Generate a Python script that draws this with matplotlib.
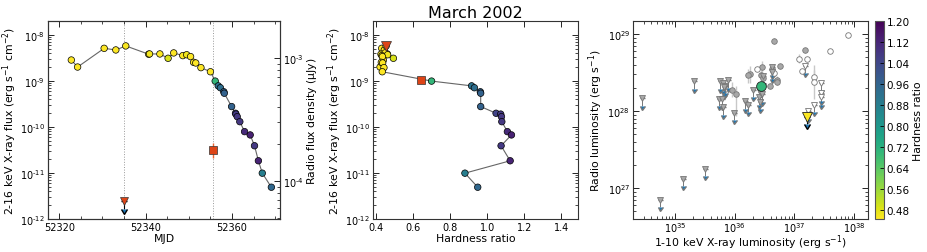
import numpy as np
import matplotlib
matplotlib.use("Agg")
import matplotlib.pyplot as plt
from matplotlib.colors import Normalize
from matplotlib.ticker import MultipleLocator, LogLocator, NullFormatter, FuncFormatter
import matplotlib.cm as cm

# ---------------- data ----------------
mjd = [52322.8, 52324.25, 52330.4, 52333.1, 52335.4, 52340.7, 52340.9, 52343.3,
       52345.2, 52346.5, 52348.6, 52349.5, 52350.4, 52351.1, 52351.6, 52352.8,
       52355.0, 52356.1, 52356.8, 52357.3, 52358.1, 52358.2, 52359.9, 52360.8,
       52360.9, 52361.2, 52361.8, 52362.9, 52364.2, 52365.2, 52366.1, 52367.0,
       52369.1]
xflux = [2.84e-9, 2.0e-9, 5.1e-9, 4.7e-9, 5.75e-9, 3.8e-9, 3.85e-9, 3.85e-9,
         3.1e-9, 4.05e-9, 3.54e-9, 3.7e-9, 3.37e-9, 2.53e-9, 2.45e-9, 1.94e-9,
         1.58e-9, 9.9e-10, 7.8e-10, 7.1e-10, 5.8e-10, 5.4e-10, 2.77e-10, 1.98e-10,
         1.9e-10, 1.67e-10, 1.3e-10, 7.9e-11, 6.7e-11, 3.9e-11, 1.84e-11, 9.9e-12,
         4.9e-12]
hardness = [0.44, 0.422, 0.431, 0.445, 0.455, 0.427, 0.461, 0.452, 0.494, 0.449,
            0.432, 0.463, 0.435, 0.429, 0.436, 0.443, 0.434, 0.70, 0.916, 0.931,
            0.963, 0.965, 0.965, 1.048, 1.073, 1.077, 1.079, 1.109, 1.131, 1.075,
            1.124, 0.880, 0.949]

radio_mjd = [52334.9, 52355.7]
radio_flux = [6.9e-5, 1.79e-4]
radio_err = [0.0, 0.25e-4]
radio_hr = [0.454, 0.644]
radio_xflux = [5.85e-9, 1.06e-9]

# right panel (log10 luminosities)
det_lx = [35.96, 36.03, 36.25, 36.23, 36.45, 36.44, 36.59, 36.66, 36.70, 36.71, 36.76, 37.17, 36.47, 36.62]
det_lr = [28.28, 28.22, 28.48, 28.47, 28.57, 28.47, 28.33, 28.91, 28.41, 28.38, 28.58, 28.79, 28.43, 28.55]
det_elo = [0.10, 0.28, 0.12, 0.10, 0.08, 0.06, 0.04, 0.04, 0.04, 0.04, 0.03, 0.03, 0.05, 0.04]
det_ehi = [0.10, 0.10, 0.10, 0.08, 0.08, 0.06, 0.04, 0.04, 0.04, 0.04, 0.03, 0.03, 0.05, 0.04]

open_lx = [36.38, 36.65, 37.08, 37.21, 37.13, 37.32, 37.33, 37.60, 37.89]
open_lr = [28.55, 28.49, 28.68, 28.68, 28.52, 28.44, 28.38, 28.78, 28.99]
open_err = [0.0, 0.0, 0.06, 0.0, 0.0, 0.10, 0.22, 0.0, 0.0]

ul_lx = [34.45, 34.75, 35.13, 35.32, 35.50, 35.76, 35.80, 35.84, 35.89, 35.82,
         35.74, 35.79, 35.81, 35.99, 36.18, 36.23, 36.30, 36.40, 36.43, 36.46,
         36.42, 36.62, 36.63, 36.47]
ul_lr = [28.17, 26.85, 27.12, 28.39, 27.25, 28.39, 28.36, 28.33, 28.40, 28.31,
         28.16, 28.16, 28.05, 27.98, 28.13, 28.08, 28.28, 28.18, 28.25, 28.22,
         28.12, 28.57, 28.51, 28.46]

oul_lx = [37.17, 37.23, 37.33, 37.45, 37.44, 37.45]
oul_lr = [28.59, 28.00, 28.08, 28.37, 28.23, 28.18]

hl_lx = [36.44]
hl_lr = [28.33]
hl_hr = [0.70]
hlul_lx = [37.21]
hlul_lr = [27.93]
hlul_hr = [0.45]

cbar_ticks = [0.48, 0.56, 0.64, 0.72, 0.80, 0.88, 0.96, 1.04, 1.12, 1.20]

# ---------------- style ----------------
plt.rcParams['font.family'] = ['DejaVu Sans']
plt.rcParams['font.size'] = 7
plt.rcParams['axes.linewidth'] = 0.8
plt.rcParams['axes.edgecolor'] = '#333333'
plt.rcParams['mathtext.default'] = 'regular'

TICK = 7
LAB = 7.8

cmap = plt.get_cmap('viridis_r')
norm = Normalize(vmin=0.447, vmax=1.2)
red = '#dd4416'
line_c = '#666666'

W, H = 927, 253
fig = plt.figure(figsize=(W / 100, H / 100), dpi=100)

def rect(x0, x1, y0=22, y1=220):
    return [x0 / W, 1 - y1 / H, (x1 - x0) / W, (y1 - y0) / H]

def logfmt2(v, pos):
    e = int(round(np.log10(v)))
    s = str(e).replace('-', '\u2010')
    return '10$^{%s}$' % s

fmt = FuncFormatter(logfmt2)

def style(ax, right=True):
    ax.tick_params(which='both', direction='in', top=True, right=right, labelsize=TICK, pad=2)
    ax.tick_params(which='major', length=4, width=0.6)
    ax.tick_params(which='minor', length=2, width=0.5)

def logy(ax):
    ax.yaxis.set_major_locator(LogLocator(base=10, numticks=10))
    ax.yaxis.set_minor_locator(LogLocator(base=10, subs=np.arange(2, 10), numticks=10))
    ax.yaxis.set_major_formatter(fmt)
    ax.yaxis.set_minor_formatter(NullFormatter())

# ---------------- left panel ----------------
ax1 = fig.add_axes(rect(48, 280))
ax1.plot(mjd, xflux, '-', color=line_c, lw=0.8, zorder=1)
ax1.scatter(mjd, xflux, c=hardness, cmap=cmap, norm=norm, s=22,
            edgecolors='k', linewidths=0.5, zorder=3)
for m in radio_mjd:
    ax1.axvline(m, color='#999999', ls=':', lw=0.7, zorder=0)
ax1.set_yscale('log')
ax1.set_ylim(1e-12, 2e-8)
ax1.set_xlim(52317.4, 52371.1)
ax1.xaxis.set_major_locator(MultipleLocator(20))
ax1.xaxis.set_minor_locator(MultipleLocator(5))
logy(ax1)
ax1.set_xlabel('MJD', fontsize=LAB, labelpad=1)
ax1.set_ylabel('2-16 keV X-ray flux (erg s$^{-1}$ cm$^{-2}$)', fontsize=LAB, labelpad=1)
style(ax1, right=False)

ax1r = ax1.twinx()
ax1r.set_yscale('log')
ax1r.set_ylim(4.9e-5, 2e-3)
ax1r.errorbar([radio_mjd[1]], [radio_flux[1]], yerr=[radio_err[1]], fmt='s',
              color=red, ms=5.5, mec='#333333', mew=0.5, ecolor='#ee6633', elinewidth=1.0, zorder=4)
ax1r.errorbar([radio_mjd[0]], [radio_flux[0]], yerr=[radio_flux[0] * 0.15], uplims=True,
              fmt='none', ecolor='k', elinewidth=0.8, capsize=2.5, zorder=3)
ax1r.plot([radio_mjd[0]], [radio_flux[0]], 'v', color=red, ms=6, mec='#333333', mew=0.5, zorder=4)
logy(ax1r)
ax1r.set_ylabel('Radio flux density ($\\mu$Jy)', fontsize=LAB, labelpad=1)
ax1r.tick_params(which='both', direction='in', labelsize=TICK, pad=2)
ax1r.tick_params(which='major', length=4, width=0.6)
ax1r.tick_params(which='minor', length=2, width=0.5)

# ---------------- middle panel ----------------
ax2 = fig.add_axes(rect(373, 578))
ax2.plot(hardness, xflux, '-', color=line_c, lw=0.8, zorder=1)
ax2.scatter(hardness, xflux, c=hardness, cmap=cmap, norm=norm, s=22,
            edgecolors='k', linewidths=0.5, zorder=3)
ax2.plot([radio_hr[1]], [radio_xflux[1]], 's', color=red, ms=6, mec='#333333', mew=0.5, zorder=4)
ax2.plot([radio_hr[0]], [radio_xflux[0]], 'v', color=red, ms=6.5, mec='#333333', mew=0.5, zorder=4)
ax2.set_yscale('log')
ax2.set_ylim(1e-12, 2e-8)
ax2.set_xlim(0.384, 1.49)
ax2.xaxis.set_major_locator(MultipleLocator(0.2))
logy(ax2)
ax2.set_xlabel('Hardness ratio', fontsize=LAB, labelpad=1)
ax2.set_ylabel('2-16 keV X-ray flux (erg s$^{-1}$ cm$^{-2}$)', fontsize=LAB, labelpad=1)
ax2.set_title('March 2002', fontsize=11.5, pad=3)
style(ax2)

# ---------------- right panel ----------------
ax3 = fig.add_axes(rect(633, 868))
gfill, gedge, gerr = '#a8a8a8', '#777777', '#c8c8c8'

dlx = 10 ** np.array(det_lx); dlr = 10 ** np.array(det_lr)
elo = dlr - 10 ** (np.array(det_lr) - np.array(det_elo))
ehi = 10 ** (np.array(det_lr) + np.array(det_ehi)) - dlr
ax3.errorbar(dlx, dlr, yerr=[elo, ehi], fmt='none', ecolor=gerr, elinewidth=1.0, zorder=1)
ax3.plot(dlx, dlr, 'o', color=gfill, mec=gedge, mew=0.6, ms=4, zorder=2)

olx = 10 ** np.array(open_lx); olr = 10 ** np.array(open_lr)
oe = np.array(open_err)
oelo = olr - 10 ** (np.array(open_lr) - oe)
oehi = 10 ** (np.array(open_lr) + oe) - olr
ax3.errorbar(olx, olr, yerr=[oelo, oehi], fmt='none', ecolor=gerr, elinewidth=1.0, zorder=1)
ax3.plot(olx, olr, 'o', color='white', mec=gedge, mew=0.6, ms=4, zorder=2)

ulx = 10 ** np.array(ul_lx); ulr = 10 ** np.array(ul_lr)
ax3.errorbar(ulx, ulr, yerr=ulr * 0.2, uplims=True, fmt='none', ecolor=gedge,
             elinewidth=0.7, capsize=1.8, zorder=1)
ax3.plot(ulx, ulr, 'v', color=gfill, mec=gedge, mew=0.6, ms=4.5, zorder=2)

oulx = 10 ** np.array(oul_lx); oulr = 10 ** np.array(oul_lr)
ax3.errorbar(oulx, oulr, yerr=oulr * 0.2, uplims=True, fmt='none', ecolor=gedge,
             elinewidth=0.7, capsize=1.8, zorder=1)
ax3.plot(oulx, oulr, 'v', color='white', mec=gedge, mew=0.6, ms=4.5, zorder=2)

ax3.plot(10 ** np.array(hl_lx), 10 ** np.array(hl_lr), 'o', color=cmap(norm(hl_hr[0])),
         mec='#222222', mew=0.6, ms=7, zorder=5)
hy = 10 ** np.array(hlul_lr)
ax3.errorbar(10 ** np.array(hlul_lx), hy, yerr=hy * 0.2, uplims=True, fmt='none',
             ecolor='k', elinewidth=0.8, capsize=2.5, zorder=4)
ax3.plot(10 ** np.array(hlul_lx), hy, 'v', color=cmap(norm(hlul_hr[0])),
         mec='#222222', mew=0.6, ms=7, zorder=5)

ax3.set_xscale('log'); ax3.set_yscale('log')
ax3.set_xlim(10 ** 34.3, 10 ** 38.23)
ax3.set_ylim(10 ** 26.6, 10 ** 29.17)
ax3.xaxis.set_major_locator(LogLocator(base=10, numticks=10))
ax3.xaxis.set_minor_locator(LogLocator(base=10, subs=np.arange(2, 10), numticks=10))
ax3.xaxis.set_major_formatter(fmt)
ax3.xaxis.set_minor_formatter(NullFormatter())
logy(ax3)
ax3.set_ylabel('Radio luminosity (erg s$^{-1}$)', fontsize=LAB, labelpad=2)
style(ax3)
ax3.tick_params(axis='x', pad=1)
ax3.set_xlabel('1-10 keV X-ray luminosity (erg s$^{-1}$)', fontsize=LAB)
ax3.xaxis.set_label_coords(0.5, -0.115)
ax3.xaxis.label.set_va('center')

# ---------------- colorbar ----------------
cax = fig.add_axes(rect(875, 884))
sm = cm.ScalarMappable(norm=norm, cmap=cmap)
cb = fig.colorbar(sm, cax=cax, ticks=cbar_ticks)
cb.ax.set_yticklabels([f'{t:.2f}' for t in cbar_ticks])
cb.ax.tick_params(labelsize=TICK + 0.5, direction='in', length=3, width=0.6, pad=2)
cb.set_label('Hardness ratio', fontsize=LAB, labelpad=2)
cb.outline.set_linewidth(0.8)
cb.outline.set_edgecolor('#555555')

fig.savefig('out.png', dpi=100)
